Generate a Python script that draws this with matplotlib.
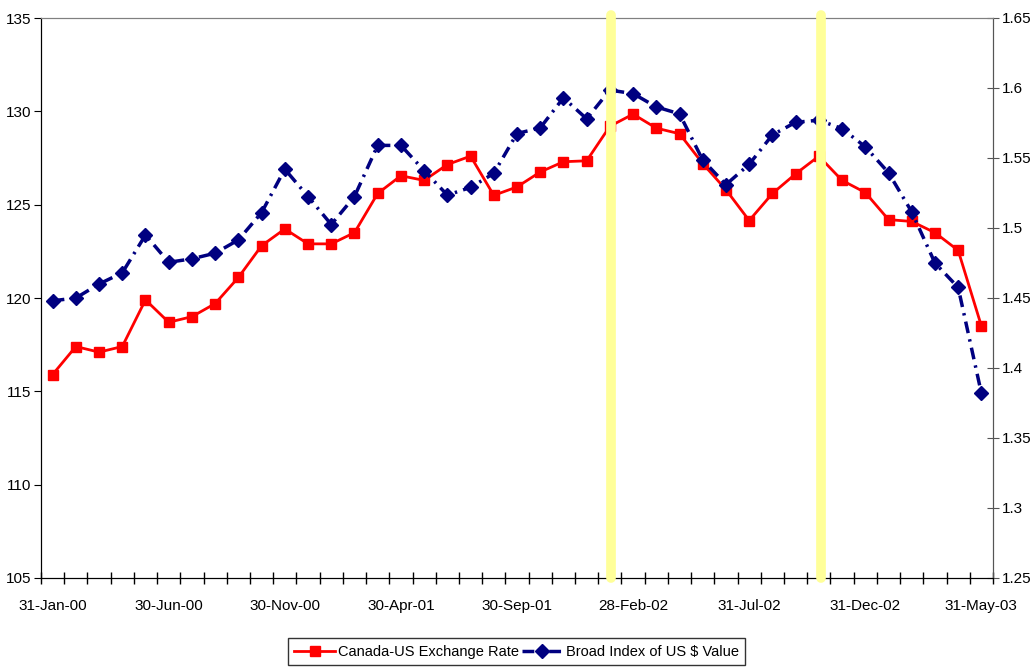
import numpy as np
import matplotlib.pyplot as plt

plt.rcParams['font.family'] = ['Liberation Sans', 'DejaVu Sans']

# monthly, Jan-2000 .. May-2003
x_labels = ["31-Jan-00", "30-Jun-00", "30-Nov-00", "30-Apr-01", "30-Sep-01",
            "28-Feb-02", "31-Jul-02", "31-Dec-02", "31-May-03"]

red_vals = [115.9, 117.4, 117.1, 117.4, 119.9, 118.7, 119.0, 119.7, 121.1, 122.8,
            123.7, 122.9, 122.9, 123.5, 125.6, 126.55, 126.3, 127.15, 127.6, 125.5,
            125.95, 126.75, 127.3, 127.35, 129.2, 129.85, 129.1, 128.8, 127.2, 125.8,
            124.15, 125.6, 126.65, 127.6, 126.3, 125.65, 124.2, 124.1, 123.5, 122.55,
            118.5]

blue_vals = [1.448, 1.450, 1.460, 1.468, 1.495, 1.4755, 1.478, 1.482, 1.4915, 1.511,
             1.542, 1.5225, 1.5025, 1.5225, 1.559, 1.559, 1.541, 1.5235, 1.529, 1.539,
             1.5675, 1.5715, 1.593, 1.578, 1.5985, 1.596, 1.5865, 1.5815, 1.5485, 1.531,
             1.5455, 1.5665, 1.5755, 1.577, 1.571, 1.558, 1.5395, 1.5115, 1.475, 1.4575,
             1.382]

highlight_idx = [24.05, 33.1]

n = len(red_vals)
xs = np.arange(n)

fig = plt.figure(figsize=(10.33, 6.69), dpi=100)
ax = fig.add_axes([41/1033, 1-578/669, 952/1033, 560/669])
ax2 = ax.twinx()

l1, = ax.plot(xs, red_vals, color='#FF0000', lw=2, marker='s', ms=6.5,
              label='Canada-US Exchange Rate')
l2, = ax2.plot(xs, blue_vals, color='#000080', lw=2.5, marker='D', ms=7.5,
               linestyle=(0, (3.4, 1.8, 0.7, 1.8)), label='Broad Index of US $ Value')

for h in highlight_idx:
    ax2.axvline(h, ymin=0, ymax=1.005, color='#FFFF99', lw=7, zorder=10,
                solid_capstyle='round', clip_on=False)

ax.set_xlim(-0.5, n - 0.5)
ax.set_ylim(105, 135)
ax2.set_ylim(1.25, 1.65)
ax.set_yticks(np.arange(105, 136, 5))
ax2.set_yticks(np.arange(1.25, 1.651, 0.05))
ax2.set_yticklabels([f"{v:g}" for v in np.round(np.arange(1.25, 1.651, 0.05), 2)])

ax.set_xticks(np.arange(0, n, 5))
ax.set_xticklabels(x_labels)
ax.set_xticks(np.arange(-0.5, n, 1), minor=True)
ax.tick_params(axis='x', which='major', length=0, pad=15, labelsize=11)
ax.tick_params(axis='x', which='minor', direction='inout', length=9, width=1)
ax.tick_params(axis='y', direction='out', length=5, labelsize=11, pad=2)
ax2.tick_params(axis='y', direction='inout', length=9, labelsize=11, pad=2,
                color='#555555')

for a in (ax, ax2):
    a.spines['top'].set_color('#808080')
    a.spines['left'].set_color('black')
    a.spines['right'].set_color('#555555')
    a.spines['bottom'].set_color('black')

leg = fig.legend([l1, l2], [l1.get_label(), l2.get_label()], loc='center',
                 bbox_to_anchor=(0.5, 0.026), ncol=2, frameon=True, fancybox=False,
                 edgecolor='black', fontsize=10.5, handlelength=2.8,
                 columnspacing=0.2, handletextpad=0.2, borderpad=0.45,
                 borderaxespad=0)
leg.get_frame().set_linewidth(1)

fig.savefig('out.png', dpi=100)
